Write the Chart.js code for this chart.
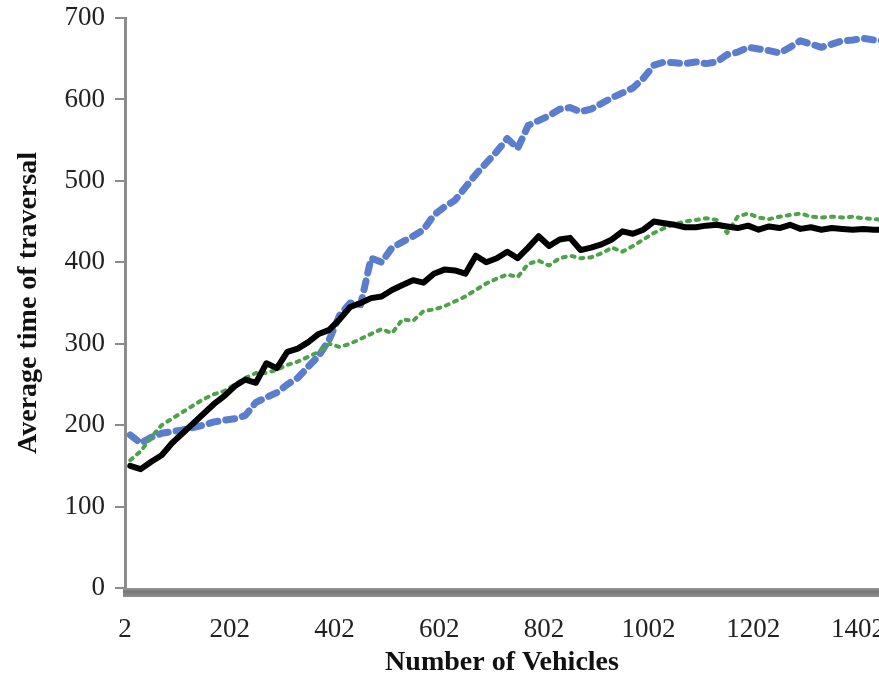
<!DOCTYPE html>
<html>
<head>
<meta charset="utf-8">
<title>Average time of traversal</title>
<script src="https://cdn.jsdelivr.net/npm/chart.js@4/dist/chart.umd.min.js"></script>
<style>
  html, body { margin: 0; padding: 0; background: #fff; }
  canvas { display: block; }
</style>
</head>
<body>
<canvas id="traversalChart" width="879" height="677"></canvas>
<script>
// number of vehicles (sampled every 20)
const vehicles = [
  12, 32, 52, 72, 92, 112, 132, 152, 172, 192,
  212, 232, 252, 272, 292, 312, 332, 352, 372, 392,
  412, 432, 452, 472, 492, 512, 532, 552, 572, 592,
  612, 632, 652, 672, 692, 712, 732, 752, 772, 792,
  812, 832, 852, 872, 892, 912, 932, 952, 972, 992,
  1012, 1032, 1052, 1072, 1092, 1112, 1132, 1152, 1172, 1192,
  1212, 1232, 1252, 1272, 1292, 1312, 1332, 1352, 1372, 1392,
  1412, 1432, 1452
];

// solid black line
const solidBlack = [
  150, 146, 155, 163, 178, 190, 202, 214, 226, 236,
  248, 256, 252, 276, 270, 290, 294, 302, 312, 317,
  330, 345, 350, 356, 358, 366, 372, 378, 375, 386,
  391, 390, 386, 408, 400, 405, 413, 405, 418, 432,
  420, 428, 430, 415, 418, 422, 428, 438, 435, 440,
  450, 448, 446, 443, 443, 445, 446, 444, 442, 445,
  440, 444, 442, 446, 441, 443, 440, 442, 441, 440,
  441, 440, 440
];

// dotted green line
const dottedGreen = [
  157, 168, 185, 200, 208, 216, 224, 232, 238, 242,
  250, 258, 264, 264, 268, 274, 278, 284, 290, 300,
  296, 300, 306, 312, 318, 313, 330, 328, 340, 342,
  346, 352, 358, 366, 374, 380, 385, 382, 398, 402,
  396, 405, 408, 405, 406, 411, 418, 413, 420, 428,
  436, 442, 447, 450, 452, 454, 452, 436, 456, 460,
  455, 453, 456, 458, 460, 456, 455, 456, 455, 456,
  454, 453, 452
];

// dashed blue line
const dashedBlue = [
  188, 178, 185, 190, 192, 194, 197, 200, 204, 206,
  208, 212, 228, 234, 240, 250, 258, 272, 285, 305,
  335, 350, 348, 405, 400, 418, 425, 432, 440, 458,
  468, 476, 492, 508, 522, 536, 552, 540, 568, 574,
  580, 588, 590, 585, 588, 595, 602, 608, 614, 626,
  642, 646, 645, 644, 646, 644, 646, 655, 658, 664,
  662, 660, 657, 664, 672, 668, 664, 668, 672, 673,
  675, 673, 672
];

const xTicks = [2, 202, 402, 602, 802, 1002, 1202, 1402];
const yTicks = [0, 100, 200, 300, 400, 500, 600, 700];

const toPoints = (ys) => ys.map((y, i) => ({ x: vehicles[i], y: y }));

// thick grey bar under the plot, like the original x axis
const axisBar = {
  id: 'axisBar',
  beforeDatasetsDraw(chart) {
    const { ctx, chartArea } = chart;
    const h = 9;
    const grad = ctx.createLinearGradient(0, chartArea.bottom, 0, chartArea.bottom + h);
    grad.addColorStop(0, '#9a9a9a');
    grad.addColorStop(0.4, '#777777');
    grad.addColorStop(1, '#8e8e8e');
    ctx.save();
    ctx.fillStyle = grad;
    ctx.fillRect(chartArea.left - 2, chartArea.bottom, chartArea.right - chartArea.left + 2, h);
    ctx.restore();
  }
};

const serif = "'Liberation Serif', 'Times New Roman', serif";

const chart = new Chart(document.getElementById('traversalChart').getContext('2d'), {
  type: 'line',
  data: {
    datasets: [
      {
        label: 'Series 3',
        data: toPoints(solidBlack),
        borderColor: '#000000',
        borderWidth: 6,
        borderJoinStyle: 'round',
        borderCapStyle: 'round',
        pointRadius: 0,
        tension: 0
      },
      {
        label: 'Series 2',
        data: toPoints(dottedGreen),
        borderColor: '#4ea34a',
        borderWidth: 4,
        borderDash: [3, 6],
        borderCapStyle: 'round',
        borderJoinStyle: 'round',
        pointRadius: 0,
        tension: 0
      },
      {
        label: 'Series 1',
        data: toPoints(dashedBlue),
        borderColor: '#5a7ecd',
        borderWidth: 7,
        borderDash: [9, 8],
        borderCapStyle: 'round',
        borderJoinStyle: 'round',
        pointRadius: 0,
        tension: 0
      }
    ]
  },
  options: {
    responsive: false,
    animation: false,
    layout: { padding: { top: 18, right: 0, bottom: 0, left: 0 } },
    plugins: {
      legend: { display: false },
      tooltip: { enabled: false }
    },
    scales: {
      x: {
        type: 'linear',
        min: 2,
        max: 1442,
        afterBuildTicks(scale) {
          scale.ticks = xTicks.map(v => ({ value: v }));
        },
        afterFit(scale) {
          scale.height = 89;
          scale.paddingLeft = 0;
          scale.paddingRight = 0;
        },
        grid: { display: false },
        border: { display: false },
        ticks: {
          color: '#222',
          padding: 18,
          maxRotation: 0,
          autoSkip: false,
          callback: (v) => String(v),
          font: { family: serif, size: 27 }
        },
        title: {
          display: true,
          text: 'Number of Vehicles',
          color: '#111',
          padding: { top: 0, bottom: 0 },
          font: { family: serif, size: 28, weight: 'bold', lineHeight: 1 }
        }
      },
      y: {
        min: 0,
        max: 700,
        afterBuildTicks(scale) {
          scale.ticks = yTicks.map(v => ({ value: v }));
        },
        afterFit(scale) {
          scale.width = 125;
          scale.paddingTop = 0;
          scale.paddingBottom = 0;
        },
        grid: {
          drawOnChartArea: false,
          drawTicks: true,
          tickLength: 10,
          color: '#8c8c8c',
          lineWidth: 2
        },
        border: { display: true, color: '#8c8c8c', width: 3 },
        ticks: {
          color: '#222',
          padding: 10,
          callback: (v) => String(v),
          font: { family: serif, size: 27 }
        },
        title: {
          display: true,
          text: 'Average time of traversal',
          color: '#111',
          padding: { top: 15, bottom: 0 },
          font: { family: serif, size: 28, weight: 'bold', lineHeight: 1 }
        }
      }
    }
  },
  plugins: [axisBar]
});
</script>
</body>
</html>
